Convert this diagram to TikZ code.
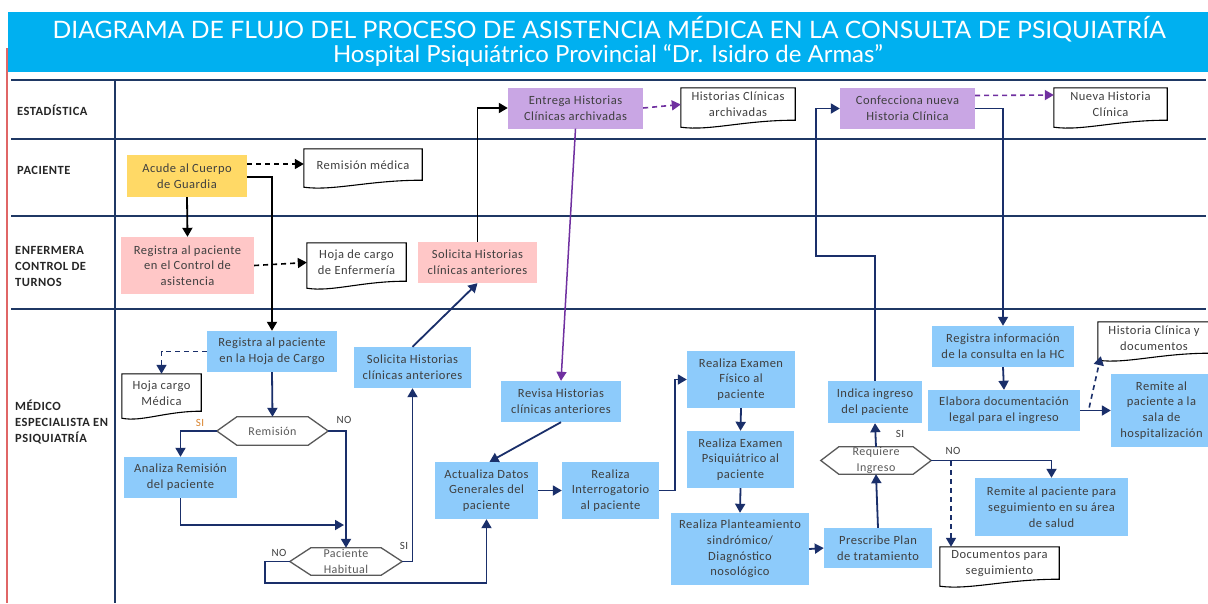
\documentclass[tikz,border=0pt]{standalone}
\usepackage{fontspec}
\setmainfont{Carlito}[LetterSpace=4]
\newfontfamily\titlefont{Lato}
\usetikzlibrary{arrows.meta,calc}
\definecolor{titlebl}{HTML}{00B0F0}
\definecolor{lane}{HTML}{1F3864}
\definecolor{navy}{HTML}{1A2F6A}
\definecolor{boxbl}{HTML}{8DCBFB}
\definecolor{boxye}{HTML}{FFD966}
\definecolor{boxpk}{HTML}{FFC7C7}
\definecolor{boxpu}{HTML}{C9A6E4}
\definecolor{purp}{HTML}{7030A0}
\definecolor{txt}{HTML}{3F3F3F}
\definecolor{hextxt}{HTML}{595959}
\definecolor{redl}{HTML}{E06666}
\definecolor{orng}{HTML}{D9822B}
\newcommand\docout[1]{%
  \draw[docline] (#1.north west) -- (#1.north east) -- ($(#1.south east)+(0,-1)$)
   .. controls ($(#1.south east)!0.45!(#1.south west)+(0,-1)$) and ($(#1.south east)!0.75!(#1.south west)+(0,10)$)
   .. ($(#1.south west)+(0,6)$) -- cycle;}
\newcommand\hexout[2]{%
  \draw[hexline] (#1.west) -- ($(#1.north west)+(#2,0)$) -- ($(#1.north east)+(-#2,0)$) -- (#1.east)
   -- ($(#1.south east)+(-#2,0)$) -- ($(#1.south west)+(#2,0)$) -- cycle;}
\begin{document}
\begin{tikzpicture}[x=1pt,y=-1pt,
  sz/.style 2 args={minimum width=#1pt, minimum height=#2pt},
  box/.style={rectangle, inner sep=0pt, align=center, text=txt, font=\fontsize{12.5}{15.8}\selectfont},
  bl/.style={box, fill=boxbl},
  ye/.style={box, fill=boxye},
  pk/.style={box, fill=boxpk},
  pu/.style={box, fill=boxpu},
  docnode/.style={box, text=txt},
  hexnode/.style={box, text=hextxt, font=\fontsize{12}{15.5}\selectfont},
  docline/.style={draw=black, line width=1.1pt},
  hexline/.style={draw=hextxt, line width=1.3pt},
  lanelbl/.style={anchor=west, align=left, inner sep=0pt, text=black!85, font=\fontsize{12.5}{16}\selectfont\bfseries},
  lbl/.style={inner sep=0pt, text=txt, font=\fontsize{11}{12}\selectfont},
  tip/.style={-{Triangle[width=10pt,length=9pt]}},
  conn/.style={draw=navy, line width=1.8pt, tip},
  connbk/.style={draw=black, line width=1.8pt, tip},
  connpu/.style={draw=purp, line width=1.5pt, tip},
  dsh/.style={line width=1.6pt, dash pattern=on 5pt off 4pt, tip},
]
\useasboundingbox (0,0) rectangle (1208,603);
\fill[white] (0,0) rectangle (1208,603);
% title
\fill[titlebl] (8,12) rectangle (1210,72);
\node[text=white, inner sep=0pt, font=\titlefont\fontsize{24}{26}\selectfont] (t1) at (609,29)
  {\scalebox{1.03}[1]{DIAGRAMA DE FLUJO DEL PROCESO DE ASISTENCIA MÉDICA EN LA CONSULTA DE PSIQUIATRÍA}};
\node[text=white, inner sep=0pt, font=\titlefont\fontsize{23.5}{26}\selectfont] (t2) at (608,56)
  {\scalebox{1.02}[1]{Hospital Psiquiátrico Provincial “Dr. Isidro de Armas”}};
% side line
\draw[redl, line width=1.4pt] (7,48) -- (7,603);
% lanes
\foreach \yy in {80,139,216,309} \draw[lane, line width=2.8pt] (11,\yy) -- (1206,\yy);
\draw[lane, line width=2.6pt] (115,80) -- (115,603);
\node[lanelbl] (l1) at (17,110) {ESTADÍSTICA};
\node[lanelbl] (l2) at (17,170) {PACIENTE};
\node[lanelbl] (l3) at (15,266) {ENFERMERA\\CONTROL DE\\TURNOS};
\node[lanelbl] (l4) at (15,422) {MÉDICO\\ESPECIALISTA EN\\PSIQUIATRÍA};
% boxes
\node[ye, sz={120}{42}] (acude) at (187,176) {Acude al Cuerpo\\de Guardia};
\node[pk, sz={133}{57}] (regctl) at (187.5,265.5) {Registra al paciente\\en el Control de\\asistencia};
\node[pk, sz={119}{41}] (solp) at (477.5,262.5) {Solicita Historias\\clínicas anteriores};
\node[pu, sz={135}{41}] (entrega) at (575.5,108) {Entrega Historias\\Clínicas archivadas};
\node[pu, sz={135}{41}] (conf) at (907.5,108.5) {Confecciona nueva\\Historia Clínica};
\node[bl, sz={130}{41}] (hc) at (272,351.5) {Registra al paciente\\en la Hoja de Cargo};
\node[bl, sz={113}{41}] (analiza) at (180.5,477.5) {Analiza Remisión\\del paciente};
\node[bl, sz={117}{41}] (solb) at (412.5,367.5) {Solicita Historias\\clínicas anteriores};
\node[bl, sz={120}{41}] (revisa) at (561,401.5) {Revisa Historias\\clínicas anteriores};
\node[bl, sz={103}{57}] (actualiza) at (486.5,490.5) {Actualiza Datos\\Generales del\\paciente};
\node[bl, sz={97}{57}] (interr) at (610.5,490.5) {Realiza\\Interrogatorio\\al paciente};
\node[bl, sz={108}{57}] (fisico) at (741,379.5) {Realiza Examen\\Físico al\\paciente};
\node[bl, sz={107}{57}] (psiq) at (740.5,459.5) {Realiza Examen\\Psiquiátrico al\\paciente};
\node[bl, sz={138}{72}] (plant) at (740,549) {Realiza Planteamiento\\sindrómico/\\Diagnóstico\\nosológico};
\node[bl, sz={108}{40}] (prescribe) at (878,548) {Prescribe Plan\\de tratamiento};
\node[bl, sz={94}{42}] (indica) at (875,402) {Indica ingreso\\del paciente};
\node[bl, sz={142}{41}] (reginfo) at (1003,346.5) {Registra información\\de la consulta en la HC};
\node[bl, sz={152}{41}] (elabora) at (1004,410.5) {Elabora documentación\\legal para el ingreso};
\node[bl, sz={153}{58}] (remseg) at (1051.5,507) {Remite al paciente para\\seguimiento en su área\\de salud};
\node[bl, sz={101}{73}] (remsala) at (1161.5,410.5) {Remite al\\paciente a la\\sala de\\hospitalización};
% documents
\node[docnode, sz={118}{32}] (rm) at (363,165) {Remisión médica};
\node[docnode, sz={99}{39}] (hojenf) at (356.5,262.5) {Hoja de cargo\\de Enfermería};
\node[docnode, sz={114}{33}] (hca) at (738,104.5) {Historias Clínicas\\archivadas};
\node[docnode, sz={113}{33}] (nhc) at (1110.5,104.5) {Nueva Historia\\Clínica};
\node[docnode, sz={79}{38}] (hcm) at (161.5,393) {Hoja cargo\\Médica};
\node[docnode, sz={119}{33}] (docseg) at (999.5,563.5) {Documentos para\\seguimiento};
\node[docnode, sz={112}{32}] (hcd) at (1154,338) {Historia Clínica y\\documentos};
\docout{rm}\docout{hojenf}\docout{hca}\docout{nhc}\docout{hcm}\docout{docseg}\docout{hcd}
% decisions
\node[hexnode, sz={111}{28}] (rem) at (272.5,431) {Remisión};
\node[hexnode, sz={112}{27}] (ph) at (346,561.5) {Paciente\\Habitual};
\node[hexnode, sz={110}{27}] (req) at (876,460.5) {Requiere\\Ingreso};
\hexout{rem}{20}\hexout{ph}{21}\hexout{req}{18}
% labels
\node[lbl, text=orng] (s1) at (200,423) {SI};
\node[lbl] (n1) at (344,420) {NO};
\node[lbl] (n2) at (279,553) {NO};
\node[lbl] (s2) at (404,546) {SI};
\node[lbl] (s3) at (900,434) {SI};
\node[lbl] (n3) at (953,451) {NO};
% coordinates
\coordinate (k1) at (816,256);
\coordinate (k2) at (344,525);
\coordinate (k3) at (951,461);
\coordinate (k4) at (265,583);
% connectors black
\draw[connbk, draw=black, dsh] ([yshift=12pt]acude.east) -- ([yshift=1pt]rm.west);
\draw[connbk] ([yshift=-1pt]acude.east) -| (hc.north);
\draw[connbk] (acude.south) -- (regctl.north);
\draw[connbk, dsh] (regctl.east) -- (hojenf.west);
\draw[connbk] (solp.north) |- (entrega.west);
% purple
\draw[connpu, dsh] (entrega.east) -- (hca.west);
\draw[connpu] (entrega.south) -- (revisa.north);
\draw[connpu, dsh] ([yshift=13pt]conf.east) -- ([yshift=9.5pt]nhc.west);
% navy
\draw[conn] (conf.east) -| (reginfo.north);
\draw[conn] (indica.north) |- (k1) |- (conf.west);
\draw[conn, dsh] (hc.west) -| (hcm.north);
\draw[conn] (hc.south) -- (rem.north);
\draw[conn] (rem.west) -| (analiza.north);
\draw[conn] (rem.east) -| (ph.north);
\draw[conn] (analiza.south) |- (k2);
\draw[conn] (ph.east) -| (solb.south);
\draw[conn] (ph.west) -| (k4) -| (actualiza.south);
\draw[conn] (solb.north) -- (solp.south);
\draw[conn] (revisa.south) -- ([xshift=3pt]actualiza.north);
\draw[conn] (actualiza.east) -- (interr.west);
\draw[conn] (interr.east) -- ++(16,0) |- (fisico.west);
\draw[conn] (fisico.south) -- (psiq.north);
\draw[conn] (psiq.south) -- (plant.north);
\draw[conn] (plant.east) -- (prescribe.west);
\draw[conn] (prescribe.north) -- (req.south);
\draw[conn] (req.north) -- (indica.south);
\draw[conn] (req.east) -| (remseg.north);
\draw[conn, dsh] (k3) -- (k3 |- docseg.north);
\draw[conn] (reginfo.south) -- (elabora.north);
\draw[conn] (elabora.east) -- (remsala.west);
\draw[conn, dsh] ([xshift=9pt,yshift=3pt]elabora.east) -- ([xshift=3pt,yshift=-2pt]hcd.south west);
\end{tikzpicture}
\end{document}
